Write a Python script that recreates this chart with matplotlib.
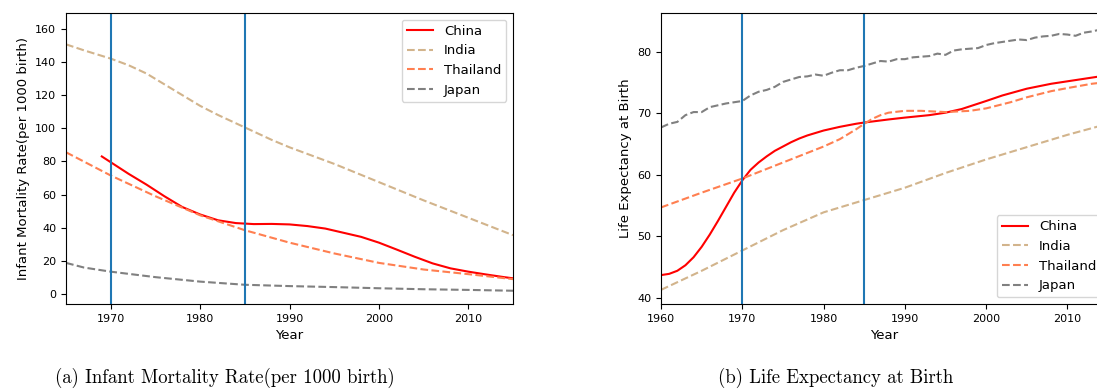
import numpy as np
import matplotlib
matplotlib.use('Agg')
import matplotlib.pyplot as plt

# ── Infant mortality (per 1000 births) ────────────────────────────────────────
imr_china_years = [1969, 1970, 1972, 1974, 1976, 1978, 1980, 1982, 1984, 1986, 1988,
                   1990, 1992, 1994, 1996, 1998, 2000, 2002, 2004, 2006, 2008, 2010,
                   2012, 2014, 2015]
imr_china = [83.0, 79.5, 72.5, 66.0, 59.0, 52.5, 48.0, 44.5, 42.8, 42.2, 42.3,
             42.0, 41.0, 39.5, 37.0, 34.5, 31.0, 26.8, 22.5, 18.5, 15.5, 13.5,
             11.8, 10.2, 9.5]

imr_india_years = [1965, 1967, 1970, 1972, 1974, 1976, 1978, 1980, 1982, 1985, 1988,
                   1990, 1995, 2000, 2005, 2010, 2015]
imr_india = [150.6, 147.0, 142.0, 138.0, 133.0, 126.5, 120.0, 113.5, 108.0, 100.5, 93.0,
             88.5, 78.5, 67.5, 56.5, 46.0, 35.5]

imr_thai_years = [1965, 1970, 1975, 1980, 1985, 1990, 1995, 2000, 2005, 2010, 2015]
imr_thai = [85.5, 71.5, 59.0, 47.5, 38.5, 31.0, 24.5, 18.8, 14.8, 12.0, 9.0]

imr_japan_years = [1965, 1967, 1970, 1975, 1980, 1985, 1990, 1995, 2000, 2005, 2010, 2015]
imr_japan = [18.8, 16.0, 13.5, 10.2, 7.5, 5.6, 4.8, 4.2, 3.5, 2.9, 2.5, 2.0]

# ── Life expectancy at birth ──────────────────────────────────────────────────
le_china_years = [1960, 1961, 1962, 1963, 1964, 1965, 1966, 1967, 1968, 1969, 1970,
                  1971, 1972, 1973, 1974, 1975, 1976, 1977, 1978, 1979, 1980, 1982,
                  1984, 1985, 1988, 1990, 1993, 1995, 1997, 2000, 2002, 2005, 2008,
                  2010, 2013, 2015]
le_china = [43.7, 43.9, 44.4, 45.3, 46.6, 48.3, 50.3, 52.5, 54.8, 57.1, 59.1,
            60.8, 62.0, 63.0, 63.9, 64.6, 65.3, 65.9, 66.4, 66.8, 67.2, 67.8,
            68.3, 68.5, 69.0, 69.3, 69.7, 70.1, 70.7, 72.0, 72.9, 74.0, 74.8,
            75.2, 75.8, 76.2]

le_india_years = [1960, 1965, 1970, 1975, 1980, 1985, 1990, 1995, 2000, 2005, 2010, 2015]
le_india = [41.3, 44.4, 47.7, 51.0, 53.9, 55.9, 57.9, 60.3, 62.5, 64.5, 66.5, 68.3]

le_thai_years = [1960, 1965, 1970, 1975, 1980, 1982, 1984, 1985, 1986, 1987, 1988,
                 1990, 1992, 1995, 1998, 2000, 2003, 2005, 2008, 2010, 2013, 2015]
le_thai = [54.7, 57.1, 59.4, 62.0, 64.6, 65.8, 67.4, 68.3, 69.1, 69.7, 70.1,
           70.4, 70.4, 70.2, 70.4, 70.8, 71.8, 72.6, 73.6, 74.1, 74.8, 75.1]

le_japan_years = list(range(1960, 2016))
le_japan = [67.7, 68.3, 68.6, 69.7, 70.2, 70.2, 71.0, 71.3, 71.6, 71.8,
            72.0, 72.9, 73.5, 73.8, 74.3, 75.1, 75.5, 75.9, 76.0, 76.3,
            76.1, 76.6, 77.0, 77.0, 77.4, 77.7, 78.1, 78.5, 78.4, 78.8,
            78.8, 79.1, 79.2, 79.3, 79.7, 79.5, 80.2, 80.4, 80.5, 80.6,
            81.1, 81.4, 81.6, 81.8, 82.0, 81.9, 82.3, 82.5, 82.6, 82.9,
            82.8, 82.6, 83.1, 83.3, 83.6, 83.8]

reform_years = [1970, 1985]

STYLES = {'China':    dict(color='red',  linestyle='-'),
          'India':    dict(color='tan',  linestyle='--'),
          'Thailand': dict(color='coral', linestyle='--'),
          'Japan':    dict(color='gray', linestyle='--')}

plt.rcParams['font.size'] = 8
plt.rcParams['axes.linewidth'] = 0.8

fig = plt.figure(figsize=(10.97, 3.91), dpi=100)
ax1 = fig.add_axes([0.0602, 0.2225, 0.4075, 0.7442])
ax2 = fig.add_axes([0.6026, 0.2225, 0.4075, 0.7442])

def draw(ax, series):
    for name, (xs, ys) in series.items():
        ax.plot(xs, ys, label=name, linewidth=1.5, **STYLES[name])
    for yr in reform_years:
        ax.axvline(yr, color='#1f77b4', linewidth=1.5)
    ax.set_xlabel('Year', fontsize=9.5)
    ax.tick_params(labelsize=8)

draw(ax1, {'China': (imr_china_years, imr_china),
           'India': (imr_india_years, imr_india),
           'Thailand': (imr_thai_years, imr_thai),
           'Japan': (imr_japan_years, imr_japan)})
ax1.set_xlim(1965, 2015)
ax1.set_ylim(-6, 169.5)
ax1.set_xticks([1970, 1980, 1990, 2000, 2010])
ax1.set_yticks(np.arange(0, 161, 20))
ax1.set_ylabel('Infant Mortality Rate(per 1000 birth)', fontsize=9.5)
ax1.legend(loc='upper right', fontsize=9.5)

draw(ax2, {'China': (le_china_years, le_china),
           'India': (le_india_years, le_india),
           'Thailand': (le_thai_years, le_thai),
           'Japan': (le_japan_years, le_japan)})
ax2.set_xlim(1960, 2015)
ax2.set_ylim(39, 86.3)
ax2.set_xticks([1960, 1970, 1980, 1990, 2000, 2010])
ax2.set_yticks([40, 50, 60, 70, 80])
ax2.set_ylabel('Life Expectancy at Birth', fontsize=9.5)
ax2.legend(loc='lower right', fontsize=9.5)

# subfigure captions
cap = dict(family='cmr10', fontsize=13.5, va='center', ha='left')
fig.text(55 / 1097, 1 - 378 / 391, '(a) Infant Mortality Rate(per 1000 birth)', **cap)
fig.text(718 / 1097, 1 - 378 / 391, '(b) Life Expectancy at Birth', **cap)

fig.savefig('out.png', dpi=100, facecolor='white')
